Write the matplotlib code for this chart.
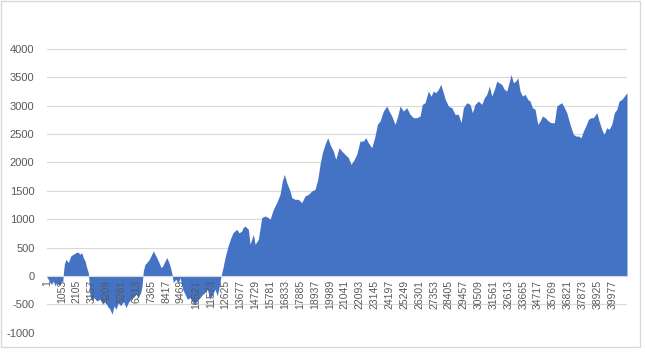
import matplotlib.pyplot as plt
from matplotlib.patches import Rectangle

plt.rcParams["font.family"] = ["Liberation Sans", "DejaVu Sans"]

sample_cat = [
    1, 92, 212, 332, 445, 566, 686, 870, 1039, 1110,
    1152, 1223, 1343, 1506, 1676, 1859, 2050, 2170, 2333, 2453,
    2566, 2687, 2807, 2920, 3040, 3160, 3323, 3514, 3747, 3938,
    4101, 4263, 4454, 4596, 4737, 4878, 5041, 5211, 5394, 5585,
    5748, 5917, 6101, 6292, 6455, 6625, 6717, 6808, 6929, 7049,
    7233, 7402, 7515, 7636, 7756, 7918, 8060, 8180, 8343, 8463,
    8576, 8696, 8816, 8929, 9099, 9283, 9403, 9594, 9757, 9919,
    10110, 10301, 10464, 10626, 10817, 11008, 11171, 11333, 11524, 11715,
    11878, 12040, 12182, 12302, 12443, 12585, 12797, 13009, 13150, 13412,
    13574, 13765, 13857, 13999, 14232, 14352, 14587, 14707, 14940, 15180,
    15413, 15646, 15766, 16000, 16240, 16473, 16636, 16777, 16947, 17180,
    17300, 17534, 17767, 18007, 18241, 18474, 18714, 18948, 19139, 19301,
    19464, 19655, 19845, 20008, 20241, 20411, 20644, 20835, 21069, 21302,
    21493, 21656, 21896, 22129, 22363, 22532, 22716, 22956, 23190, 23352,
    23543, 23776, 24017, 24179, 24370, 24604, 24795, 24957, 25190, 25431,
    25664, 25898, 26138, 26371, 26534, 26725, 26958, 27149, 27312, 27481,
    27665, 27835, 28019, 28139, 28372, 28613, 28846, 29079, 29270, 29433,
    29673, 29906, 30069, 30260, 30493, 30734, 30918, 31087, 31271, 31441,
    31625, 31794, 31956, 32147, 32331, 32500, 32663, 32805, 32967, 33137,
    33278, 33441, 33604, 33795, 33985, 34148, 34311, 34502, 34692, 34855,
    35018, 35209, 35442, 35633, 35866, 36036, 36198, 36389, 36573, 36743,
    36905, 37047, 37209, 37379, 37563, 37754, 37917, 38086, 38270, 38461,
    38624, 38864, 39026, 39217, 39380, 39571, 39733, 39924, 40108, 40278,
    40441, 40631, 40815, 41000,
]
sample_val = [
    -30, -58, -117, -147, -88, -176, -117, -176, -88, -117,
    30, 205, 294, 235, 352, 382, 411, 423, 382, 411,
    323, 264, 147, 59, -352, -440, -381, -440, -411, -499,
    -440, -528, -587, -675, -528, -587, -469, -528, -440, -557,
    -469, -411, -381, -323, -381, -293, -176, 88, 205, 235,
    294, 382, 440, 382, 323, 235, 147, 176, 264, 323,
    264, 176, 59, -117, -59, -117, -30, -235, -323, -411,
    -381, -469, -499, -440, -381, -323, -293, -235, -411, -323,
    -235, -352, -176, 0, 150, 323, 528, 680, 763, 821,
    760, 792, 850, 880, 822, 558, 734, 558, 646, 1028,
    1056, 1028, 998, 1174, 1292, 1438, 1673, 1790, 1644, 1497,
    1380, 1350, 1350, 1292, 1410, 1438, 1497, 1526, 1702, 1966,
    2171, 2318, 2435, 2318, 2200, 2054, 2259, 2200, 2142, 2084,
    1966, 2025, 2142, 2377, 2377, 2436, 2347, 2259, 2465, 2670,
    2729, 2905, 2993, 2905, 2817, 2670, 2817, 2993, 2905, 2964,
    2847, 2788, 2788, 2817, 3023, 3052, 3257, 3169, 3257, 3228,
    3287, 3375, 3228, 3120, 2993, 2964, 2847, 2847, 2700, 2964,
    3052, 3023, 2876, 3023, 3081, 3023, 3140, 3199, 3345, 3169,
    3287, 3433, 3404, 3375, 3287, 3257, 3404, 3550, 3404, 3433,
    3492, 3257, 3169, 3199, 3110, 3081, 2964, 2935, 2671, 2729,
    2817, 2790, 2729, 2700, 2700, 2993, 3023, 3052, 2964, 2876,
    2729, 2612, 2495, 2465, 2465, 2436, 2553, 2641, 2759, 2788,
    2788, 2876, 2729, 2583, 2495, 2612, 2583, 2671, 2876, 2935,
    3081, 3110, 3169, 3228,
]

n_categories = 41000
tick_cats = list(range(1, 39978, 1052))
y_ticks = [-1000, -500, 0, 500, 1000, 1500, 2000, 2500, 3000, 3500, 4000]

fig = plt.figure(figsize=(6.45, 3.52), dpi=100)
ax = fig.add_axes([0.0729, 0.0548, 0.8992, 0.8062])

# chart border
fig.patches.append(Rectangle((0.002, 0.014), 0.99, 0.982, transform=fig.transFigure,
                             fill=False, edgecolor="#d9d9d9", linewidth=1))

for yv in y_ticks:
    ax.axhline(yv, color="#d9d9d9", linewidth=0.8, zorder=0.5)

ax.fill_between(sample_cat, sample_val, 0, color="#4472C4", linewidth=0, zorder=1)

ax.set_xlim(0.5, n_categories + 0.5)
ax.set_ylim(-1000, 4000)
ax.set_yticks(y_ticks)
ax.set_yticklabels([str(v) for v in y_ticks])
ax.set_xticks(tick_cats)
ax.set_xticklabels([str(c) for c in tick_cats])

for side in ["top", "right", "left"]:
    ax.spines[side].set_visible(False)
ax.spines["bottom"].set_position(("data", 0))
ax.spines["bottom"].set_color("#d9d9d9")
ax.spines["bottom"].set_linewidth(0.8)

ax.tick_params(axis="y", length=0, pad=9, labelsize=8, labelcolor="#595959")
ax.tick_params(axis="x", length=0, pad=3, labelsize=7.5, labelcolor="#595959",
               labelrotation=90)

fig.savefig("out.png", dpi=100)
